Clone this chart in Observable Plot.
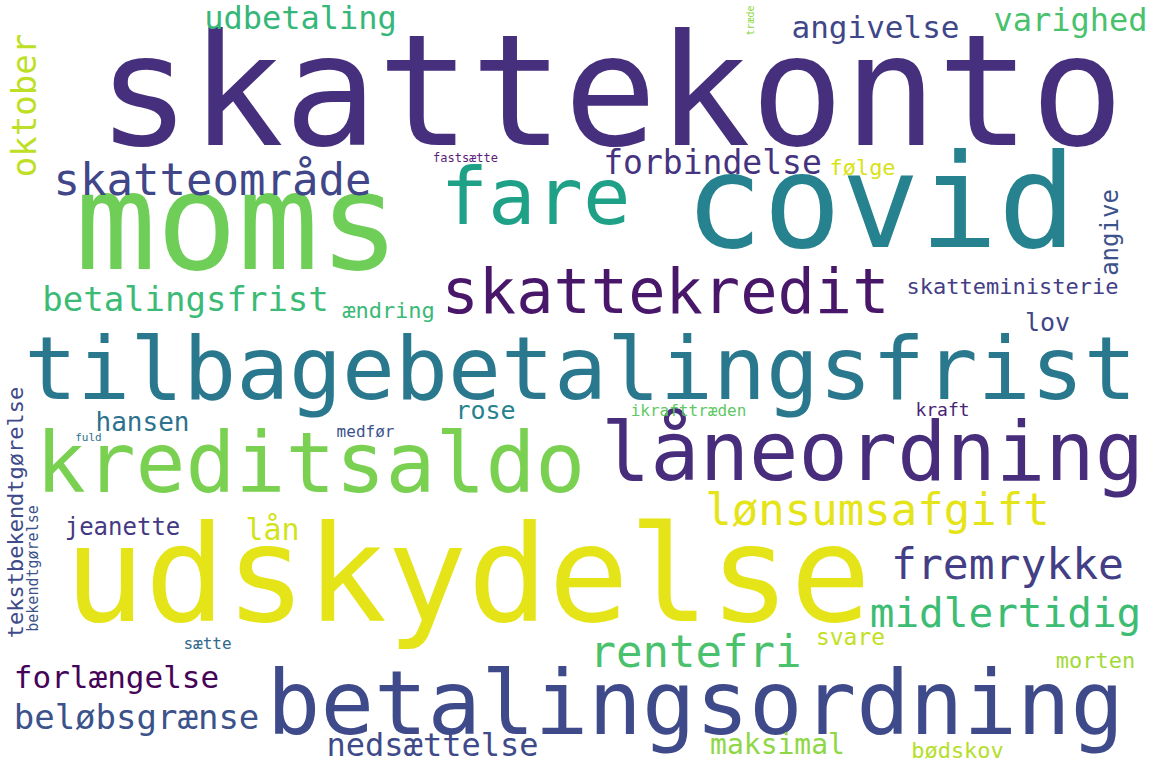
<!DOCTYPE html>
<html>
<head>
<meta charset="utf-8">
<script src="https://cdn.jsdelivr.net/npm/d3@7"></script>
<script src="https://cdn.jsdelivr.net/npm/@observablehq/plot@0.6"></script>
<style>
  body { margin: 0; background: white; }
</style>
</head>
<body>
<div id="chart"></div>
<script>
// Word cloud: word, centre position in the picture, font size, colour, rotation
const words = ["skattekonto", "covid", "moms", "fare", "skattekredit", "tilbagebetalingsfrist", "kreditsaldo", "låneordning", "udskydelse", "betalingsordning",
  "skatteområde", "betalingsfrist", "udbetaling", "angivelse", "varighed", "oktober", "træde", "fastsætte", "forbindelse", "følge",
  "angive", "skatteministerie", "ændring", "lov", "tekstbekendtgørelse", "bekendtgørelse", "hansen", "rose", "ikrafttræden", "kraft",
  "fuld", "medfør", "lønsumsafgift", "lån", "jeanette", "fremrykke", "midlertidig", "rentefri", "svare", "sætte",
  "forlængelse", "morten", "beløbsgrænse", "maksimal", "nedsættelse", "bødskov"];
const xs = [610, 880, 237, 535, 665, 580, 310, 872, 467, 695,
  212, 185, 300, 875, 1070, 25, 750, 465, 712, 862,
  1110, 1012, 388, 1047, 15, 33, 142, 485, 688, 942,
  88, 365, 877, 272, 122, 1007, 1005, 695, 850, 207,
  116, 1095, 136, 777, 432, 957];
const ys = [95, 205, 225, 198, 293, 370, 465, 453, 578, 705,
  180, 300, 18, 28, 20, 105, 20, 158, 163, 167,
  232, 286, 310, 322, 512, 568, 422, 410, 410, 410,
  437, 431, 510, 530, 527, 565, 613, 652, 637, 643,
  678, 660, 718, 745, 745, 750];
const sizes = [155, 130, 135, 79, 62, 88, 83, 82, 134, 89,
  44, 34, 32, 31, 32, 34, 10, 12, 33, 22,
  24, 22, 22, 25, 22, 15, 26, 25, 16, 18,
  11, 16, 44, 30, 24, 43, 41, 44, 23, 16,
  31, 22, 34, 28, 32, 22];
const colors = ["#46307e", "#26828e", "#6ece58", "#1fa187", "#481769", "#2a788e", "#7ad151", "#472d7b", "#e4e419", "#3e4a89",
  "#404688", "#3bbb75", "#35b779", "#3f4788", "#4ac16d", "#bddf26", "#8fd744", "#5c1d79", "#46337f", "#d8e219",
  "#3b528b", "#433e85", "#3aba76", "#404688", "#3e4a89", "#3b528b", "#2c728e", "#26828e", "#5ec962", "#482475",
  "#2c728e", "#3b528b", "#e5e419", "#d2e21b", "#443983", "#433e85", "#3dbc74", "#4ac16d", "#c2df23", "#31688e",
  "#450457", "#a2da37", "#3b528b", "#8fd744", "#3e4a89", "#b5de2b"];
const rotations = [0, 0, 0, 0, 0, 0, 0, 0, 0, 0,
  0, 0, 0, 0, 0, -90, -90, 0, 0, 0,
  -90, 0, 0, 0, -90, -90, 0, 0, 0, 0,
  0, 0, 0, 0, 0, 0, 0, 0, 0, 0,
  0, 0, 0, 0, 0, 0];

const table = words.map((w, i) => ({word: w, x: xs[i], y: ys[i], size: sizes[i], color: colors[i], rotate: rotations[i]}));

// Plot's text mark takes one fontSize per mark, so draw one mark per size group
const marks = d3.groups(table, d => d.size + "|" + d.rotate).map(([key, rows]) =>
  Plot.text(rows, {
    x: "x", y: "y", text: "word",
    fill: d => d.color,
    fontSize: rows[0].size,
    rotate: rows[0].rotate,
    fontFamily: "DejaVu Sans Mono",
    textAnchor: "middle",
    lineAnchor: "middle"
  })
);

const chart = Plot.plot({
  width: 1155,
  height: 770,
  margin: 0,
  x: {domain: [0, 1155], range: [0, 1155], axis: null},
  y: {domain: [0, 770], range: [0, 770], axis: null},
  color: {type: "identity"},
  style: {background: "white"},
  marks
});
document.getElementById("chart").append(chart);
</script>
</body>
</html>
